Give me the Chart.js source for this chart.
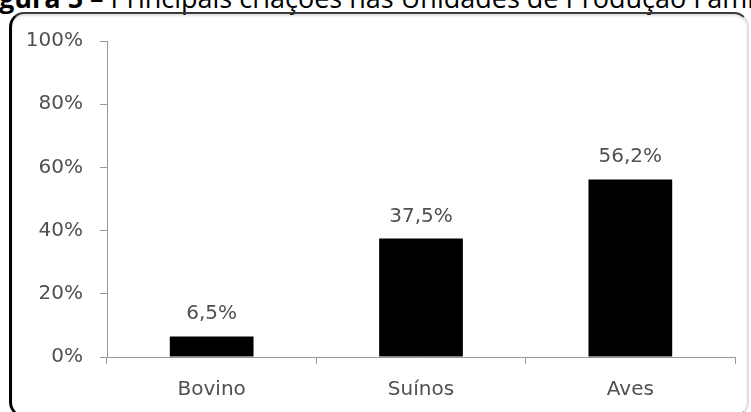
<!DOCTYPE html>
<html>
<head>
<meta charset="utf-8">
<script src="https://cdn.jsdelivr.net/npm/chart.js@4/dist/chart.umd.min.js"></script>
<style>
  html, body { margin: 0; padding: 0; background: #fff; width: 751px; height: 412px; overflow: hidden; position: relative; }
  #title { position: absolute; left: -24px; top: -16px; font-family: "Open Sans", sans-serif; font-size: 27px; line-height: 27px; white-space: nowrap; color: #000; }
  #title b { font-weight: 700; }
  #frame { position: absolute; left: 9px; top: 12px; width: 735px; height: 401px; border-top: 2px solid #3a3a3a; border-left: 3px solid #000; border-right: 2px solid #e0e0e0; border-bottom: 2px solid #000; border-radius: 15px; box-sizing: content-box; box-shadow: inset 0 2px 2px rgba(0,0,0,0.12); }
  #c { position: absolute; left: 0; top: 0; }
</style>
</head>
<body>
<div id="title"><b>Figura 5</b> – Principais criações nas Unidades de Produção Familiar</div>
<div id="frame"></div>
<canvas id="c" width="751" height="412"></canvas>
<script>
const categories = ["Bovino", "Suínos", "Aves"];
const values = [6.5, 37.5, 56.2];
const yTicks = [0, 20, 40, 60, 80, 100];

const fmt = v => v.toFixed(1).replace('.', ',') + '%';
const FONT = { family: "DejaVu Sans", size: 20 };
const TXT = '#505050';
const AXIS = '#9a9a9a';

const valueLabels = {
  id: 'valueLabels',
  afterDatasetsDraw(chart) {
    const ctx = chart.ctx;
    const meta = chart.getDatasetMeta(0);
    ctx.save();
    ctx.font = FONT.size + 'px ' + FONT.family;
    ctx.fillStyle = TXT;
    ctx.textAlign = 'center';
    ctx.textBaseline = 'alphabetic';
    meta.data.forEach((bar, i) => {
      ctx.fillText(fmt(values[i]), bar.x, bar.y - 17);
    });
    ctx.restore();
  }
};

new Chart(document.getElementById('c'), {
  type: 'bar',
  data: {
    labels: categories,
    datasets: [{
      data: values,
      backgroundColor: '#000',
      borderWidth: 0,
      barPercentage: 0.4,
      categoryPercentage: 1.0
    }]
  },
  options: {
    responsive: false,
    animation: false,
    layout: { padding: { left: 0, right: 16, top: 41, bottom: 0 } },
    plugins: { legend: { display: false }, tooltip: { enabled: false } },
    scales: {
      x: {
        grid: { offset: true, drawOnChartArea: false, tickLength: 7, color: AXIS },
        border: { color: AXIS, width: 1 },
        ticks: { font: FONT, color: TXT, padding: 14 },
        afterFit: s => { s.height = 55; }
      },
      y: {
        min: 0, max: 100,
        afterBuildTicks: s => { s.ticks = yTicks.map(v => ({ value: v })); },
        grid: { drawOnChartArea: false, tickLength: 7, color: AXIS },
        border: { color: AXIS, width: 1 },
        ticks: { font: FONT, color: TXT, padding: 17, callback: v => v + '%' },
        afterFit: s => { s.width = 107; }
      }
    }
  },
  plugins: [valueLabels]
});
</script>
</body>
</html>
